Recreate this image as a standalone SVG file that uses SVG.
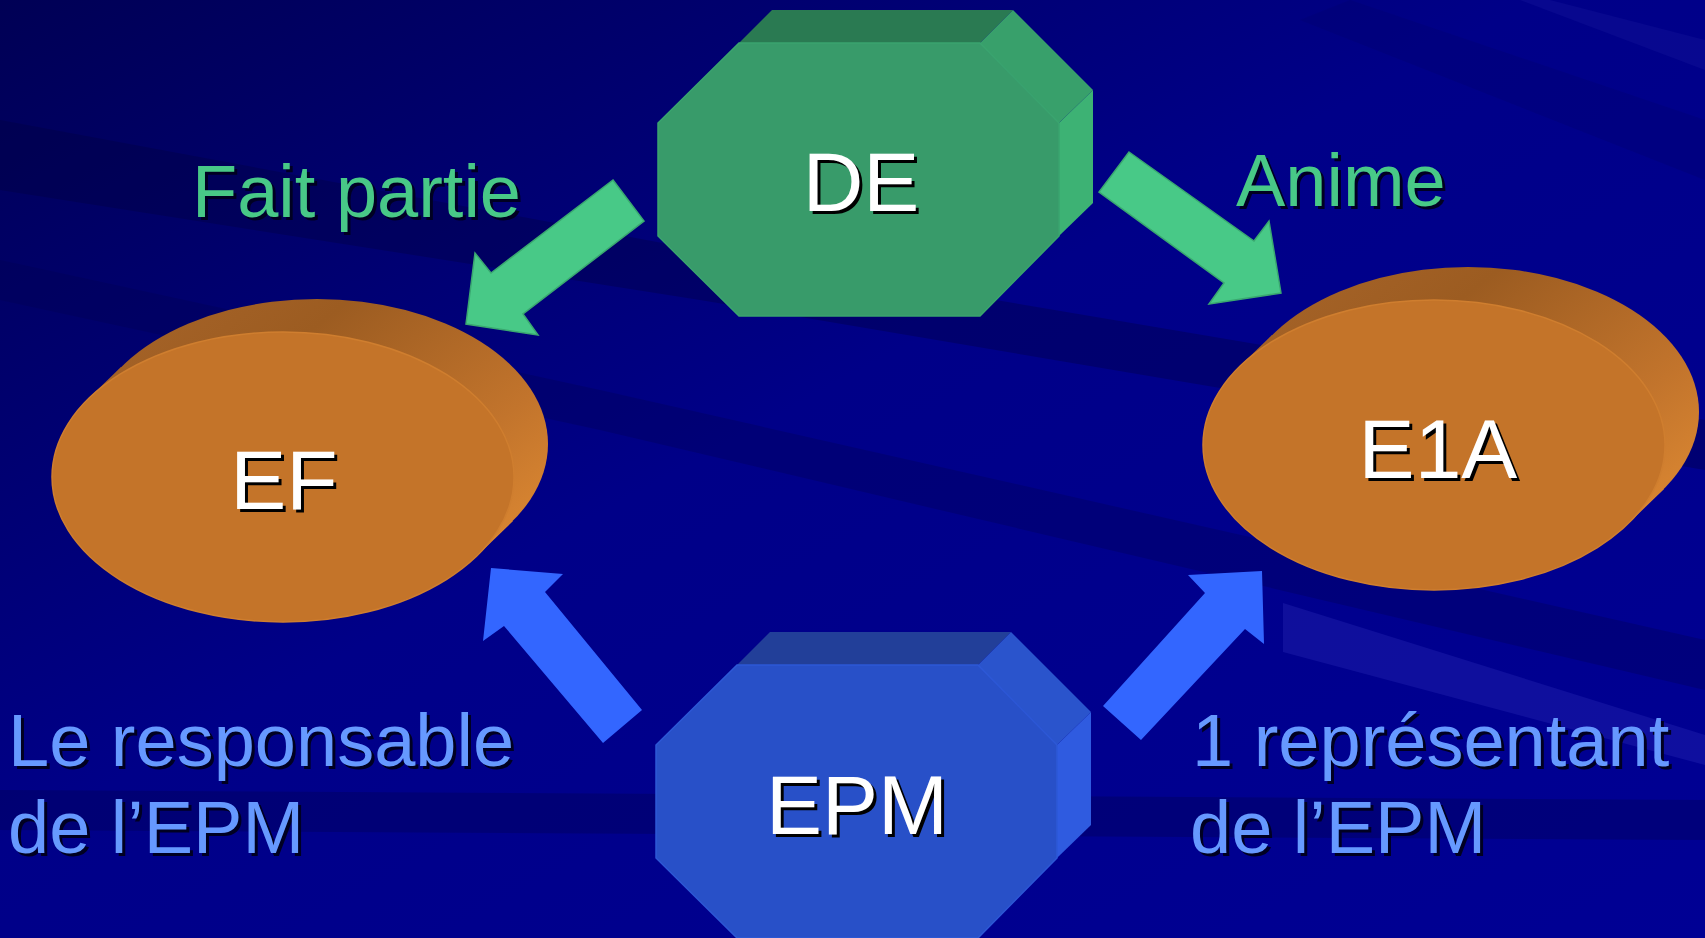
<svg xmlns="http://www.w3.org/2000/svg" width="1705" height="938" viewBox="0 0 1705 938">
<defs>
<linearGradient id="bg" x1="0" y1="0" x2="1" y2="1">
<stop offset="0" stop-color="#000055"/>
<stop offset="0.45" stop-color="#000088"/>
<stop offset="1" stop-color="#000094"/>
</linearGradient>
<linearGradient id="side" x1="0" y1="0" x2="1" y2="0.8">
<stop offset="0" stop-color="#a8652a"/>
<stop offset="0.35" stop-color="#9c5c21"/>
<stop offset="0.75" stop-color="#c2742c"/>
<stop offset="1" stop-color="#dc8832"/>
</linearGradient>
<style>
.nodeText{font-family:"Liberation Sans",Arial,sans-serif;font-size:84px;fill:#ffffff;text-anchor:middle}
.shadow{fill:#000000}
.lbl{font-family:"Liberation Sans",Arial,sans-serif;font-size:74px}
.green{fill:#48c987}
.blue{fill:#6699ff}
.lshadow{fill:#000022}
.front-ell{fill:#c47429;stroke:#cf7e2f;stroke-width:1.5}
.side-ell{fill:url(#side)}
.ga{fill:#48c987;stroke:#3aa870;stroke-width:1.5}
.ba{fill:#3366ff}
</style>
</defs>
<rect width="1705" height="938" fill="url(#bg)"/>
<g id="background-streaks">
<polygon points="0,120 700,250 1705,420 1705,470 700,300 0,190" fill="#000040" opacity="0.35"/>
<polygon points="0,260 600,390 1705,640 1705,690 600,430 0,300" fill="#000050" opacity="0.3"/>
<polygon points="1283,603 1705,735 1705,765 1283,652" fill="#2a2ab8" opacity="0.35"/>
<polygon points="0,790 1705,800 1705,840 0,830" fill="#000050" opacity="0.35"/>
<polygon points="1350,0 1705,120 1705,180 1300,20" fill="#000070" opacity="0.35"/>
<polygon points="1550,0 1705,40 1705,70 1520,0" fill="#1a1aa0" opacity="0.3"/>
</g>
<g id="connectors">
<polygon class="ga" points="613,180 644,221 523,314 538,335 466,324 475,253 491,273"/>
<polygon class="ga" points="1129,152 1254,241 1269,221 1281,293 1209,304 1224,283 1099,192"/>
<polygon class="ba" points="491,568 563,574 545,592 642,710 603,743 504,626 483,641"/>
<polygon class="ba" points="1188,575 1262,571 1264,644 1245,629 1141,740 1103,706 1205,593"/>
</g>
<g id="node-DE">
<polygon points="739,43 980,43 1013,10 772,10" fill="#2a7a52"/>
<polygon points="980,43 1013,10 1093,90 1059,123" fill="#38a06b"/>
<polygon points="1059,123 1093,90 1093,203 1059,236" fill="#3db274"/>
<polygon points="739,43 980,43 1059,123 1059,236 980,316 739,316 658,236 658,123" fill="#389b6a" stroke="#3aa46f" stroke-width="1.5"/>
<text class="nodeText shadow" x="864" y="214">DE</text>
<text class="nodeText" x="861" y="211">DE</text>
</g>
<g id="node-EPM">
<polygon points="737,665 978,665 1011,632 770,632" fill="#223f99"/>
<polygon points="978,665 1011,632 1091,712 1057,745" fill="#2a54cc"/>
<polygon points="1057,745 1091,712 1091,825 1057,858" fill="#2f5be0"/>
<polygon points="737,665 978,665 1057,745 1057,858 978,938 737,938 656,858 656,745" fill="#2850c8" stroke="#2d58d6" stroke-width="1.5"/>
<text class="nodeText shadow" x="860" y="837">EPM</text>
<text class="nodeText" x="857" y="834">EPM</text>
</g>
<g id="node-EF">
<polygon class="side-ell" points="87,400 121,367 513,521 479,554"/>
<ellipse class="side-ell" cx="317" cy="444" rx="231" ry="145"/>
<ellipse class="front-ell" cx="283" cy="477" rx="231" ry="145"/>
<text class="nodeText shadow" x="287" y="512">EF</text>
<text class="nodeText" x="284" y="509">EF</text>
</g>
<g id="node-E1A">
<polygon class="side-ell" points="1238,368 1272,335 1664,489 1630,522"/>
<ellipse class="side-ell" cx="1468" cy="412" rx="231" ry="145"/>
<ellipse class="front-ell" cx="1434" cy="445" rx="231" ry="145"/>
<text class="nodeText shadow" x="1441" y="481">E1A</text>
<text class="nodeText" x="1438" y="478">E1A</text>
</g>
<g id="labels">
<text class="lbl lshadow" x="195" y="220">Fait partie</text>
<text class="lbl green" x="192" y="217">Fait partie</text>
<text class="lbl lshadow" x="1239" y="209">Anime</text>
<text class="lbl green" x="1236" y="206">Anime</text>
<text class="lbl lshadow" x="11" y="769">Le responsable</text>
<text class="lbl blue" x="8" y="766">Le responsable</text>
<text class="lbl lshadow" x="11" y="856">de l’EPM</text>
<text class="lbl blue" x="8" y="853">de l’EPM</text>
<text class="lbl lshadow" x="1195" y="769">1 représentant</text>
<text class="lbl blue" x="1192" y="766">1 représentant</text>
<text class="lbl lshadow" x="1193" y="856">de l’EPM</text>
<text class="lbl blue" x="1190" y="853">de l’EPM</text>
</g>
</svg>
